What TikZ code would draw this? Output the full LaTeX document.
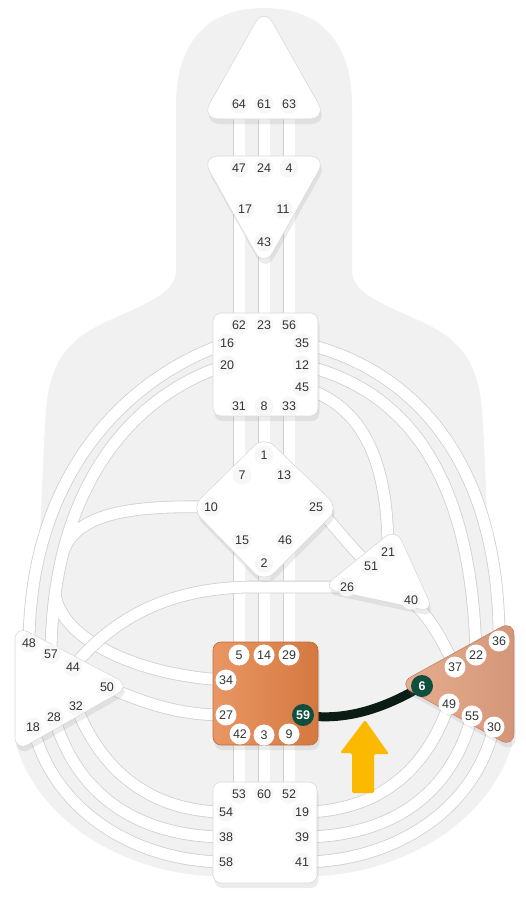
\documentclass[tikz,border=0pt]{standalone}
\usepackage{fontspec}
\setmainfont{Liberation Sans}
\usetikzlibrary{shadows}
\definecolor{bodygray}{RGB}{241,241,241}
\definecolor{chanline}{RGB}{208,208,208}
\definecolor{centreline}{RGB}{218,218,218}
\definecolor{gatetext}{RGB}{51,51,51}
\definecolor{gatebg}{RGB}{247,247,247}
\definecolor{sacralL}{RGB}{233,150,100}
\definecolor{sacralR}{RGB}{213,120,64}
\definecolor{sacraledge}{RGB}{186,108,62}
\definecolor{solarL}{RGB}{232,174,144}
\definecolor{solarR}{RGB}{212,150,120}
\definecolor{solaredge}{RGB}{194,130,100}
\definecolor{activegate}{RGB}{14,79,62}
\definecolor{activechan}{RGB}{10,28,20}
\definecolor{arrowyellow}{RGB}{251,185,0}

\def\opengates{64/239/104, 61/264/104, 63/289/104,
  47/239/168, 24/264/168, 4/289/168, 17/245/209, 11/283/209, 43/264/242,
  62/239/325, 23/264/325, 56/289/325, 16/227/343, 35/302/343, 20/227/365,
  12/302/365, 45/302/387, 31/239/406, 8/264/406, 33/289/406,
  1/264/455, 7/242/475, 13/284/475, 10/211/507, 25/316/507, 15/242/540,
  46/285/540, 2/264/563,
  21/388/552, 51/371/566, 26/347/587, 40/411/600,
  48/29/643, 57/51/654, 44/73/667, 50/107/687, 32/76/706, 28/54/717, 18/33/727,
  53/239/794, 60/264/794, 52/289/794, 54/226/812, 19/302/812, 38/226/837,
  39/302/837, 58/226/862, 41/302/862}
\def\definedgates{5/239/655, 14/264/655, 29/289/655, 34/226/680, 27/226/715,
  42/240/734, 3/264/735, 9/289/734,
  36/499/641, 22/476/655, 37/455/667, 49/449/704, 55/472/716, 30/494/727}
\def\activegates{59/303/715, 6/422/686}

\begin{document}
\begin{tikzpicture}[x=1pt,y=-1pt,
  chan/.style={draw=chanline, line width=0.8pt, double=white, double distance=11pt},
  centre/.style={fill=white, draw=centreline, line width=0.6pt, rounded corners=18pt,
    drop shadow={shadow xshift=1.5pt, shadow yshift=-5pt, opacity=0.15}},
  gate/.style={circle, inner sep=0pt, minimum size=19pt, fill=gatebg, text=gatetext,
    font=\fontsize{12.5}{12.5}\selectfont},
  gateon/.style={gate, fill=white, minimum size=21pt},
  gateact/.style={gate, fill=activegate, text=white, minimum size=22pt,
    font=\bfseries\fontsize{12.5}{12.5}\selectfont}]
\useasboundingbox (0,0) rectangle (526,903);

% body
\fill[bodygray] (264,8) .. controls (205,8) and (176,45) .. (176,105) -- (176,270)
  .. controls (176,292) and (150,302) .. (110,320) .. controls (75,336) and (50,355) .. (46,410)
  .. controls (43,450) and (42,500) .. (40,530) .. controls (36,600) and (16,640) .. (16,700)
  -- (16,745) .. controls (40,825) and (130,874) .. (213,876) -- (315,876)
  .. controls (398,874) and (488,825) .. (512,745) -- (512,700)
  .. controls (512,640) and (492,600) .. (488,530) .. controls (486,500) and (485,450) .. (482,410)
  .. controls (478,355) and (453,336) .. (418,320) .. controls (378,302) and (352,292) .. (352,270)
  -- (352,105) .. controls (352,45) and (323,8) .. (264,8) -- cycle;

\foreach \g/\x/\y in \opengates {\coordinate (g\g) at (\x,\y);}
\foreach \g/\x/\y in \definedgates {\coordinate (g\g) at (\x,\y);}
\foreach \g/\x/\y in \activegates {\coordinate (g\g) at (\x,\y);}
\coordinate (j10) at (62,556);
\coordinate (j34) at (55,593);

% channels
\draw[chan] (g64) -- (g53);
\draw[chan] (g61) -- (g60);
\draw[chan] (g63) -- (g52);
\draw[chan] (g35) .. controls (420,370) and (500,470) .. (g36);
\draw[chan] (g12) .. controls (410,390) and (472,480) .. (g22);
\draw[chan] (g45) .. controls (360,405) and (388,455) .. (g21);
\draw[chan] (g25) .. controls (335,525) and (350,548) .. (g51);
\draw[chan] (g40) .. controls (432,620) and (442,640) .. (g37);
\draw[chan] (g16) .. controls (120,380) and (30,480) .. (g48);
\def\hub{(g20) .. controls (130,395) and (52,490) .. (g57)
  (g10) .. controls (125,505) and (72,515) .. (j10)
  (j34) .. controls (60,640) and (140,676) .. (g34)}
\draw[chanline, line width=12.6pt] \hub;
\draw[white, line width=11pt] \hub;
\draw[chan] (g50) .. controls (150,705) and (180,715) .. (g27);
\draw[chan] (g54) .. controls (160,812) and (105,780) .. (g32);
\draw[chan] (g38) .. controls (150,837) and (80,805) .. (g28);
\draw[chan] (g58) .. controls (140,862) and (55,815) .. (g18);
\draw[chan] (g19) .. controls (368,812) and (423,780) .. (g49);
\draw[chan] (g39) .. controls (378,837) and (448,805) .. (g55);
\draw[chan] (g41) .. controls (388,862) and (473,815) .. (g30);
\draw[chan] (g26) -- (250,587) .. controls (180,588) and (120,610) .. (g44);
\draw[activechan, line width=9pt] (g59) .. controls (345,722) and (385,708) .. (g6);

% centres
\draw[centre] (264,7) -- (327,119) -- (201,119) -- cycle;
\draw[centre] (201,156) -- (327,156) -- (264,268) -- cycle;
\draw[centre, rounded corners=8pt] (213,313) rectangle (318,416);
\draw[centre, rounded corners=14pt] (264,436) -- (339,508) -- (264,583) -- (191,508) -- cycle;
\draw[centre, rounded corners=14pt] (396,528) -- (434,612) -- (322,588) -- cycle;
\draw[centre, rounded corners=15pt] (15,625) -- (131,686) -- (15,752) -- cycle;
\draw[centre, rounded corners=8pt, left color=sacralL, right color=sacralR, draw=sacraledge]
  (213,642) rectangle (318,745);
\draw[centre, rounded corners=15pt, left color=solarL, right color=solarR, draw=solaredge]
  (398,684) -- (514,620) -- (514,748) -- cycle;
\draw[centre, rounded corners=8pt] (213,782) rectangle (317,883);

% arrow
\fill[arrowyellow, rounded corners=1.5pt] (352,793) -- (352,753) -- (340,753) -- (365,720)
  -- (389,754) -- (374,754) -- (374,793) -- cycle;

% gates
\foreach \g/\x/\y in \opengates {\node[gate] (n\g) at (g\g) {\g};}
\foreach \g/\x/\y in \definedgates {\node[gateon] (n\g) at (g\g) {\g};}
\foreach \g/\x/\y in \activegates {\node[gateact] (n\g) at (g\g) {\g};}
\end{tikzpicture}
\end{document}
